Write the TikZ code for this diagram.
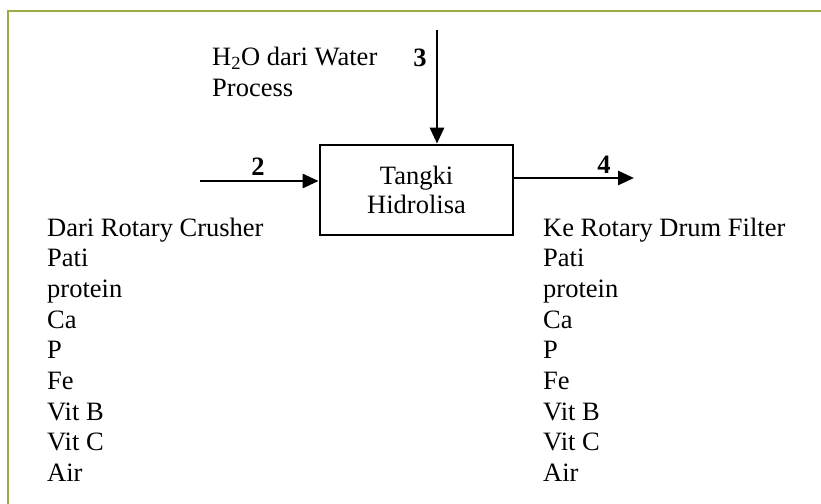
\documentclass[tikz,border=0pt]{standalone}
\usepackage{fontspec}
\setmainfont{Liberation Serif}
\usetikzlibrary{arrows.meta}
\definecolor{olive}{RGB}{155,172,70}
\begin{document}
\begin{tikzpicture}[x=1pt,y=-1pt,
  txt/.style={anchor=base west,inner sep=0pt,font=\fontsize{26.5}{30}\selectfont},
  num/.style={inner sep=0pt,font=\fontsize{26.5}{30}\selectfont\bfseries},
  flow/.style={line width=2.8pt,-{Triangle[length=16pt,width=14pt]}},
  unit/.style={draw,line width=2.8pt,minimum width=193pt,minimum height=90pt,inner sep=0pt,align=center,font=\fontsize{26.5}{29}\selectfont}]
\useasboundingbox (0,0) rectangle (821,503);
\clip (0,0) rectangle (821,503);
\fill[white] (0,0) rectangle (821,503);
\draw[olive,line width=2pt] (8,11) rectangle (840,520);
% unit
\node[unit] (tank) at (416.5,190) {Tangki\\Hidrolisa};
% stream ends
\coordinate (s2) at (200,181);
\coordinate (s3) at (437,30);
\coordinate (s4) at (634,178);
\draw[flow] (s2) -- (s2 -| tank.west);
\draw[flow] (s3) -- (s3 |- tank.north);
\draw[flow] (tank.east |- s4) -- (s4);
\node[num] (n2) at (258,167) {2};
\node[num] (n3) at (420,58) {3};
\node[num] (n4) at (604,165) {4};
% water label
\node[txt] (h2o) at (212,66) {H\textsubscript{2}O dari Water};
\node[txt] (proc) at (212,96) {Process};
% left list
\foreach \t [count=\i from 0] in {Dari Rotary Crusher,Pati,protein,Ca,P,Fe,Vit B,Vit C,Air}
  \node[txt] (l\i) at (47,236+30.7*\i) {\t};
% right list
\foreach \t [count=\i from 0] in {Ke Rotary Drum Filter,Pati,protein,Ca,P,Fe,Vit B,Vit C,Air}
  \node[txt] (r\i) at (543,236+30.7*\i) {\t};
\end{tikzpicture}
\end{document}
